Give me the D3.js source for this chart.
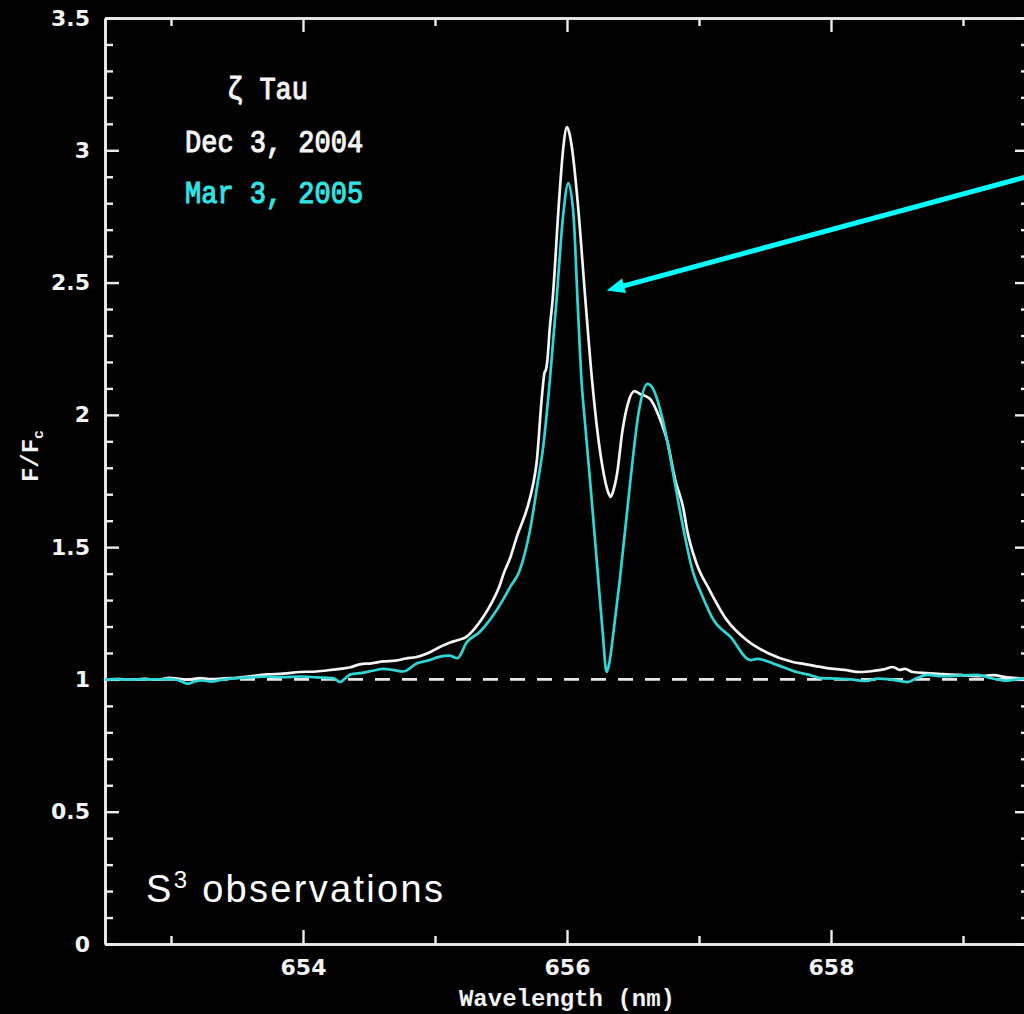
<!DOCTYPE html>
<html>
<head>
<meta charset="utf-8">
<script src="https://cdn.jsdelivr.net/npm/d3@7"></script>
<style>
  html, body { margin: 0; padding: 0; background: #000; }
  svg { display: block; }
</style>
</head>
<body>
<svg id="chart" width="1024" height="1014"></svg>
<script>
// ζ Tau H-alpha profiles, normalised flux F/Fc against wavelength (nm)

// Dec 3, 2004 spectrum
const decWavelength = [652.50,652.60,652.70,652.80,652.90,652.99,653.06,653.13,653.22,653.30,653.40,653.50,653.60,653.73,653.85,653.98,654.10,654.23,654.30,654.36,654.43,654.52,654.61,654.70,654.78,654.86,654.95,655.03,655.11,655.17,655.24,655.30,655.36,655.43,655.49,655.52,655.57,655.62,655.70,655.74,655.77,655.81,655.83,655.84,655.85,655.87,655.89,655.94,655.97,656.00,656.02,656.04,656.08,656.14,656.19,656.23,656.27,656.31,656.33,656.35,656.38,656.42,656.46,656.51,656.55,656.63,656.70,656.76,656.82,656.88,656.91,656.98,657.08,657.21,657.36,657.52,657.71,657.80,657.97,658.10,658.22,658.32,658.40,658.47,658.52,658.56,658.62,658.73,658.85,658.98,659.10,659.23,659.33,659.45,659.50];
const decFlux = [1.000,1.001,0.999,1.002,0.999,1.006,1.002,0.999,1.005,1.001,1.004,1.006,1.012,1.019,1.022,1.028,1.030,1.037,1.041,1.046,1.057,1.061,1.068,1.071,1.079,1.085,1.100,1.121,1.139,1.148,1.162,1.192,1.232,1.290,1.355,1.400,1.460,1.540,1.650,1.730,1.820,2.070,2.160,2.170,2.200,2.330,2.430,2.810,3.000,3.088,3.060,3.000,2.810,2.430,2.130,1.940,1.800,1.710,1.690,1.712,1.780,1.940,2.040,2.090,2.080,2.060,1.990,1.900,1.754,1.650,1.565,1.440,1.338,1.225,1.149,1.100,1.066,1.058,1.043,1.036,1.028,1.032,1.038,1.047,1.036,1.040,1.028,1.024,1.020,1.017,1.012,1.016,1.008,1.004,1.002];

// Mar 3, 2005 spectrum
const marWavelength = [652.50,652.60,652.70,652.80,652.90,652.99,653.06,653.13,653.18,653.24,653.30,653.38,653.47,653.60,653.73,653.85,653.98,654.10,654.23,654.28,654.32,654.36,654.45,654.53,654.61,654.68,654.76,654.86,654.95,655.03,655.11,655.17,655.24,655.34,655.43,655.49,655.57,655.64,655.72,655.78,655.82,655.87,655.92,655.97,656.01,656.05,656.08,656.11,656.14,656.18,656.23,656.27,656.30,656.32,656.35,656.40,656.48,656.54,656.61,656.66,656.70,656.76,656.80,656.87,656.95,657.03,657.11,657.24,657.39,657.44,657.59,657.74,657.85,657.92,658.05,658.15,658.27,658.35,658.45,658.58,658.65,658.73,658.85,658.98,659.11,659.20,659.28,659.33,659.45,659.50];
const marFlux = [1.000,1.001,0.999,1.001,1.000,1.002,0.996,0.984,0.992,0.996,0.992,0.998,1.004,1.008,1.011,1.009,1.011,1.008,1.005,0.990,1.004,1.019,1.025,1.033,1.040,1.036,1.030,1.060,1.072,1.085,1.090,1.080,1.140,1.180,1.235,1.280,1.350,1.410,1.565,1.750,1.880,2.130,2.430,2.750,2.876,2.750,2.430,2.130,1.950,1.720,1.420,1.180,1.028,1.060,1.170,1.376,1.750,2.000,2.117,2.090,2.030,1.900,1.790,1.600,1.414,1.310,1.225,1.160,1.073,1.078,1.055,1.028,1.015,1.005,1.003,1.000,0.994,1.003,1.000,0.990,1.005,1.017,1.012,1.015,1.017,1.006,0.998,0.995,1.003,1.002];

// Axis ticks
const xMajorTicks = [654, 656, 658];
const xMinorTicks = [653, 655, 657, 659];
const yMajorTicks = [0, 0.5, 1, 1.5, 2, 2.5, 3, 3.5];
const yMinorTicks = d3.range(0, 35).map(i => i / 10).filter(v => Math.round(v * 10) % 5 !== 0);
const continuum = 1;

// Annotation arrow, in data coordinates: [tail, head]
const arrowPoints = [[659.52, 2.905], [656.30, 2.47]];

const svg = d3.select("#chart");
const plotLeft = 105, plotRight = 1029, plotTop = 18, plotBottom = 944;

const x = d3.scaleLinear().domain([652.5, 659.5]).range([plotLeft, plotRight]);
const y = d3.scaleLinear().domain([0, 3.5]).range([plotBottom, plotTop]);

svg.append("rect").attr("width", 1024).attr("height", 1014).attr("fill", "#000");

svg.append("defs").append("clipPath").attr("id", "plot")
  .append("rect").attr("x", plotLeft).attr("y", plotTop)
  .attr("width", plotRight - plotLeft).attr("height", plotBottom - plotTop);

const axisColor = "#ececec";
const tickFont = "'DejaVu Sans', sans-serif";

function styleAxis(g) {
  g.selectAll("path.domain").attr("stroke", axisColor).attr("stroke-width", 2.6);
  g.selectAll(".tick line").attr("stroke", axisColor).attr("stroke-width", 2.4);
  g.selectAll(".tick text").attr("fill", "#f2f2f2")
    .attr("font-family", tickFont).attr("font-weight", "bold").attr("font-size", 22);
}

// bottom
svg.append("g").attr("transform", `translate(0,${plotBottom})`)
  .call(d3.axisBottom(x).tickValues(xMajorTicks).tickSizeInner(-14).tickSizeOuter(0)
    .tickPadding(15).tickFormat(d3.format("d")))
  .call(styleAxis);
svg.append("g").attr("transform", `translate(0,${plotBottom})`)
  .call(d3.axisBottom(x).tickValues(xMinorTicks).tickSizeInner(-8).tickSizeOuter(0).tickFormat(""))
  .call(styleAxis);
// top
svg.append("g").attr("transform", `translate(0,${plotTop})`)
  .call(d3.axisTop(x).tickValues(xMajorTicks).tickSizeInner(-14).tickSizeOuter(0).tickFormat(""))
  .call(styleAxis);
svg.append("g").attr("transform", `translate(0,${plotTop})`)
  .call(d3.axisTop(x).tickValues(xMinorTicks).tickSizeInner(-8).tickSizeOuter(0).tickFormat(""))
  .call(styleAxis);
// left
svg.append("g").attr("transform", `translate(${plotLeft},0)`)
  .call(d3.axisLeft(y).tickValues(yMajorTicks).tickSizeInner(-14).tickSizeOuter(0)
    .tickPadding(15).tickFormat(d => d3.format("")(d)))
  .call(styleAxis);
svg.append("g").attr("transform", `translate(${plotLeft},0)`)
  .call(d3.axisLeft(y).tickValues(yMinorTicks).tickSizeInner(-8).tickSizeOuter(0).tickFormat(""))
  .call(styleAxis);
// right
svg.append("g").attr("transform", `translate(${plotRight},0)`)
  .call(d3.axisRight(y).tickValues(yMajorTicks).tickSizeInner(-14).tickSizeOuter(0).tickFormat(""))
  .call(styleAxis);
svg.append("g").attr("transform", `translate(${plotRight},0)`)
  .call(d3.axisRight(y).tickValues(yMinorTicks).tickSizeInner(-8).tickSizeOuter(0).tickFormat(""))
  .call(styleAxis);

// continuum level
svg.append("line")
  .attr("x1", x(652.5)).attr("x2", x(659.5))
  .attr("y1", y(continuum)).attr("y2", y(continuum))
  .attr("stroke", "#e6e6e6").attr("stroke-width", 2.8)
  .attr("stroke-dasharray", "15 12");

const line = d3.line().x(d => x(d[0])).y(d => y(d[1])).curve(d3.curveMonotoneX);
const plot = svg.append("g").attr("clip-path", "url(#plot)");

plot.append("path")
  .datum(d3.zip(decWavelength, decFlux))
  .attr("fill", "none").attr("stroke", "#f4f4f4").attr("stroke-width", 2.7)
  .attr("stroke-linejoin", "round").attr("d", line);

plot.append("path")
  .datum(d3.zip(marWavelength, marFlux))
  .attr("fill", "none").attr("stroke", "#2fd6d6").attr("stroke-width", 2.7)
  .attr("stroke-linejoin", "round").attr("d", line);

// arrow
{
  const [t, h] = arrowPoints.map(p => [x(p[0]), y(p[1])]);
  const ang = Math.atan2(h[1] - t[1], h[0] - t[0]);
  const headLen = 18, headHalf = 7.5;
  const bx = h[0] - headLen * Math.cos(ang), by = h[1] - headLen * Math.sin(ang);
  svg.append("line")
    .attr("x1", t[0]).attr("y1", t[1]).attr("x2", bx + 2 * Math.cos(ang)).attr("y2", by + 2 * Math.sin(ang))
    .attr("stroke", "#00ffff").attr("stroke-width", 5);
  const nx = -Math.sin(ang), ny = Math.cos(ang);
  svg.append("polygon")
    .attr("points", [[h[0], h[1]], [bx + nx * headHalf, by + ny * headHalf], [bx - nx * headHalf, by - ny * headHalf]]
      .map(p => p.join(",")).join(" "))
    .attr("fill", "#00ffff");
}

// axis titles
svg.append("text")
  .attr("x", x(656)).attr("y", 1006)
  .attr("text-anchor", "middle")
  .attr("font-family", "'Liberation Mono', monospace").attr("font-weight", "bold")
  .attr("font-size", 24).attr("fill", "#f2f2f2")
  .text("Wavelength (nm)");

const yt = svg.append("text")
  .attr("transform", `translate(38,456) rotate(-90)`)
  .attr("text-anchor", "middle")
  .attr("font-family", "'Liberation Mono', monospace").attr("font-weight", "bold")
  .attr("font-size", 24).attr("fill", "#f2f2f2");
yt.append("tspan").text("F/F");
yt.append("tspan").attr("font-size", 15).attr("dy", 5).text("c");

// legend
const legendFont = "'Liberation Mono', monospace";
const legend = [
  { text: "ζ Tau", x: 227, y: 99, color: "#f4f4f4" },
  { text: "Dec 3, 2004", x: 185, y: 152, color: "#f4f4f4" },
  { text: "Mar 3, 2005", x: 185, y: 203, color: "#30e4e4" }
];
svg.selectAll("text.legend").data(legend).join("text")
  .attr("class", "legend")
  .attr("transform", d => `translate(${d.x},${d.y}) scale(1,1.15)`)
  .attr("font-family", legendFont).attr("font-size", 27)
  .attr("fill", d => d.color).attr("stroke", d => d.color).attr("stroke-width", 1)
  .text(d => d.text);

// source note
const note = svg.append("text")
  .attr("x", 146).attr("y", 902)
  .attr("font-family", "'Liberation Sans', Arial, sans-serif")
  .attr("font-size", 38).attr("fill", "#ffffff").attr("letter-spacing", 2.3);
note.append("tspan").text("S");
note.append("tspan").attr("font-size", 24).attr("dy", -14).text("3");
note.append("tspan").attr("dy", 14).text(" observations");
</script>
</body>
</html>
